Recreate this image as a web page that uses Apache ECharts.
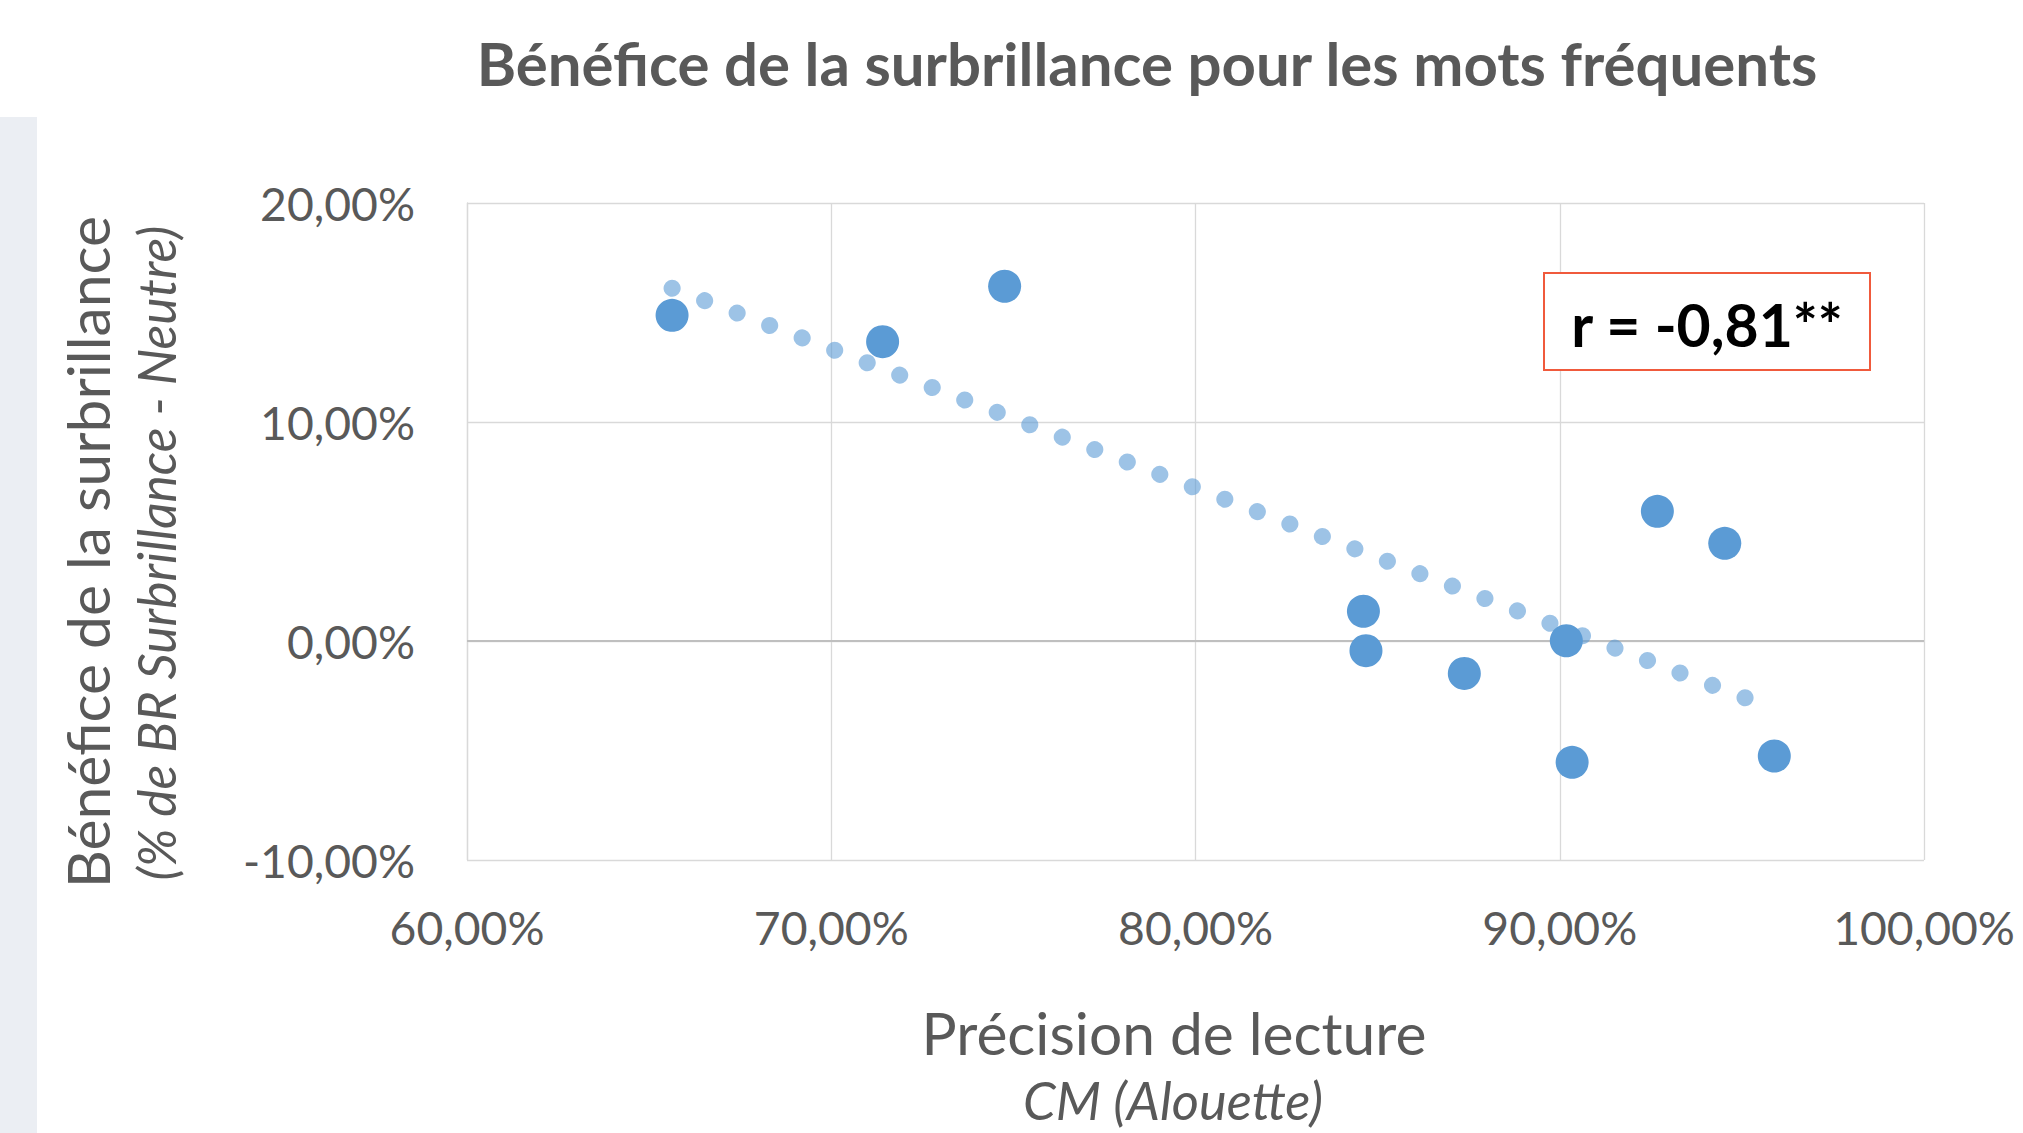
<!DOCTYPE html>
<html><head><meta charset="utf-8">
<script src="https://cdn.jsdelivr.net/npm/echarts@6/dist/echarts.min.js"></script>
<style>html,body{margin:0;padding:0;background:#fff}#c{width:2023px;height:1133px}</style>
</head><body><div id="c"></div>
<script>
// ---- data ----
const precision = [65.63, 71.41, 74.76, 84.61, 84.68, 87.38, 90.18, 90.34, 92.68, 94.53, 95.89];
const benefit   = [14.87, 13.67, 16.20, 1.36, -0.44, -1.48, 0.01, -5.54, 5.92, 4.46, -5.25];
const xTickValues = [60, 70, 80, 90, 100];
const yTickValues = [-10, 0, 10, 20];
const chartTitle = 'Bénéfice de la surbrillance pour les mots fréquents';
const yTitle = 'Bénéfice de la surbrillance';
const ySubtitle = '(% de BR Surbrillance - Neutre)';
const xTitle = 'Précision de lecture';
const xSubtitle = 'CM (Alouette)';
const corrLabel = 'r = -0,81**';

// ---- linear trendline (least squares, as Excel draws it) ----
const n = precision.length;
const mx = precision.reduce((a, b) => a + b, 0) / n;
const my = benefit.reduce((a, b) => a + b, 0) / n;
let sxy = 0, sxx = 0;
for (let i = 0; i < n; i++) { sxy += (precision[i] - mx) * (benefit[i] - my); sxx += (precision[i] - mx) ** 2; }
const slope = sxy / sxx, icpt = my - slope * mx;
const xMin = Math.min(...precision), xMax = Math.max(...precision);
const trend = [[xMin, icpt + slope * xMin], [xMax, icpt + slope * xMax]];

// ---- font fitting helper ----
const FAM = 'Lato, "Open Sans", "Liberation Sans", sans-serif';
const ctx = document.createElement('canvas').getContext('2d');
function fit(text, pre, target) { ctx.font = pre + ' 100px ' + FAM; return 100 * target / ctx.measureText(text).width; }
const fmt = v => v.toFixed(2).replace('.', ',') + '%';

const sTitle = fit(chartTitle, 'bold', 1342);
const sYT = fit(yTitle, 'normal', 672);
const sYS = fit(ySubtitle, 'italic', 655);
const sXT = fit(xTitle, 'normal', 505);
const sXS = fit(xSubtitle, 'italic', 300);
const sTick = fit('20,00%', 'normal', 155);
const sR = fit(corrLabel, 'bold', 273);

const GRID = { left: 467, right: 99, top: 203, bottom: 273 };
const txtColor = '#595959';

const chart = echarts.init(document.getElementById('c'), null, { renderer: 'svg' });
chart.setOption({
  backgroundColor: '#ffffff',
  animation: false,
  grid: GRID,
  xAxis: {
    type: 'value', min: xTickValues[0], max: xTickValues[xTickValues.length - 1], interval: 10,
    axisLine: { show: false }, axisTick: { show: false },
    splitLine: { show: true, lineStyle: { color: '#D9D9D9', width: 1.3 } },
    axisLabel: { formatter: fmt, color: txtColor, fontFamily: FAM, fontSize: sTick, margin: 927 - sTick / 2 - 860 }
  },
  yAxis: {
    type: 'value', min: yTickValues[0], max: yTickValues[yTickValues.length - 1], interval: 10,
    axisLine: { show: true, lineStyle: { color: '#D9D9D9', width: 1.3 } }, axisTick: { show: false },
    splitLine: { show: true, lineStyle: { color: '#D9D9D9', width: 1.3 } },
    axisLabel: { formatter: fmt, color: txtColor, fontFamily: FAM, fontSize: sTick, margin: 52 }
  },
  series: [
    {
      type: 'line', data: trend, showSymbol: false, symbol: 'none', z: 3, silent: true,
      lineStyle: { color: 'rgba(91,155,213,0.6)', width: 17, cap: 'round', type: [0.1, 34.7] }
    },
    {
      type: 'scatter', data: precision.map((x, i) => [x, benefit[i]]), symbolSize: 33, z: 4,
      itemStyle: { color: '#5B9BD5', opacity: 1 },
      markLine: {
        silent: true, symbol: ['none', 'none'], label: { show: false }, z: 2,
        lineStyle: { color: '#BFBFBF', width: 2, type: 'solid' },
        data: [{ yAxis: 0 }]
      }
    }
  ],
  graphic: [
    { type: 'rect', silent: true, z: -10, shape: { x: 0, y: 117, width: 37, height: 1016 }, style: { fill: '#EBEEF3' } },
    { type: 'text', x: 1147, y: 63, style: { text: chartTitle, font: 'bold ' + sTitle + 'px ' + FAM, fill: txtColor, textAlign: 'center', textVerticalAlign: 'middle' } },
    { type: 'text', x: 87, y: 552, rotation: Math.PI / 2, style: { text: yTitle, font: 'normal ' + sYT + 'px ' + FAM, fill: txtColor, textAlign: 'center', textVerticalAlign: 'middle' } },
    { type: 'text', x: 156, y: 553, rotation: Math.PI / 2, style: { text: ySubtitle, font: 'italic ' + sYS + 'px ' + FAM, fill: txtColor, textAlign: 'center', textVerticalAlign: 'middle' } },
    { type: 'text', x: 1174, y: 1032, style: { text: xTitle, font: 'normal ' + sXT + 'px ' + FAM, fill: txtColor, textAlign: 'center', textVerticalAlign: 'middle' } },
    { type: 'text', x: 1173, y: 1099, style: { text: xSubtitle, font: 'italic ' + sXS + 'px ' + FAM, fill: txtColor, textAlign: 'center', textVerticalAlign: 'middle' } },
    { type: 'rect', z: 10, shape: { x: 1544, y: 273, width: 326, height: 97 }, style: { fill: '#ffffff', stroke: '#F05A3C', lineWidth: 2 } },
    { type: 'text', z: 11, x: 1707, y: 324, style: { text: corrLabel, font: 'bold ' + sR + 'px ' + FAM, fill: '#000000', textAlign: 'center', textVerticalAlign: 'middle' } }
  ]
});
</script>
</body></html>
